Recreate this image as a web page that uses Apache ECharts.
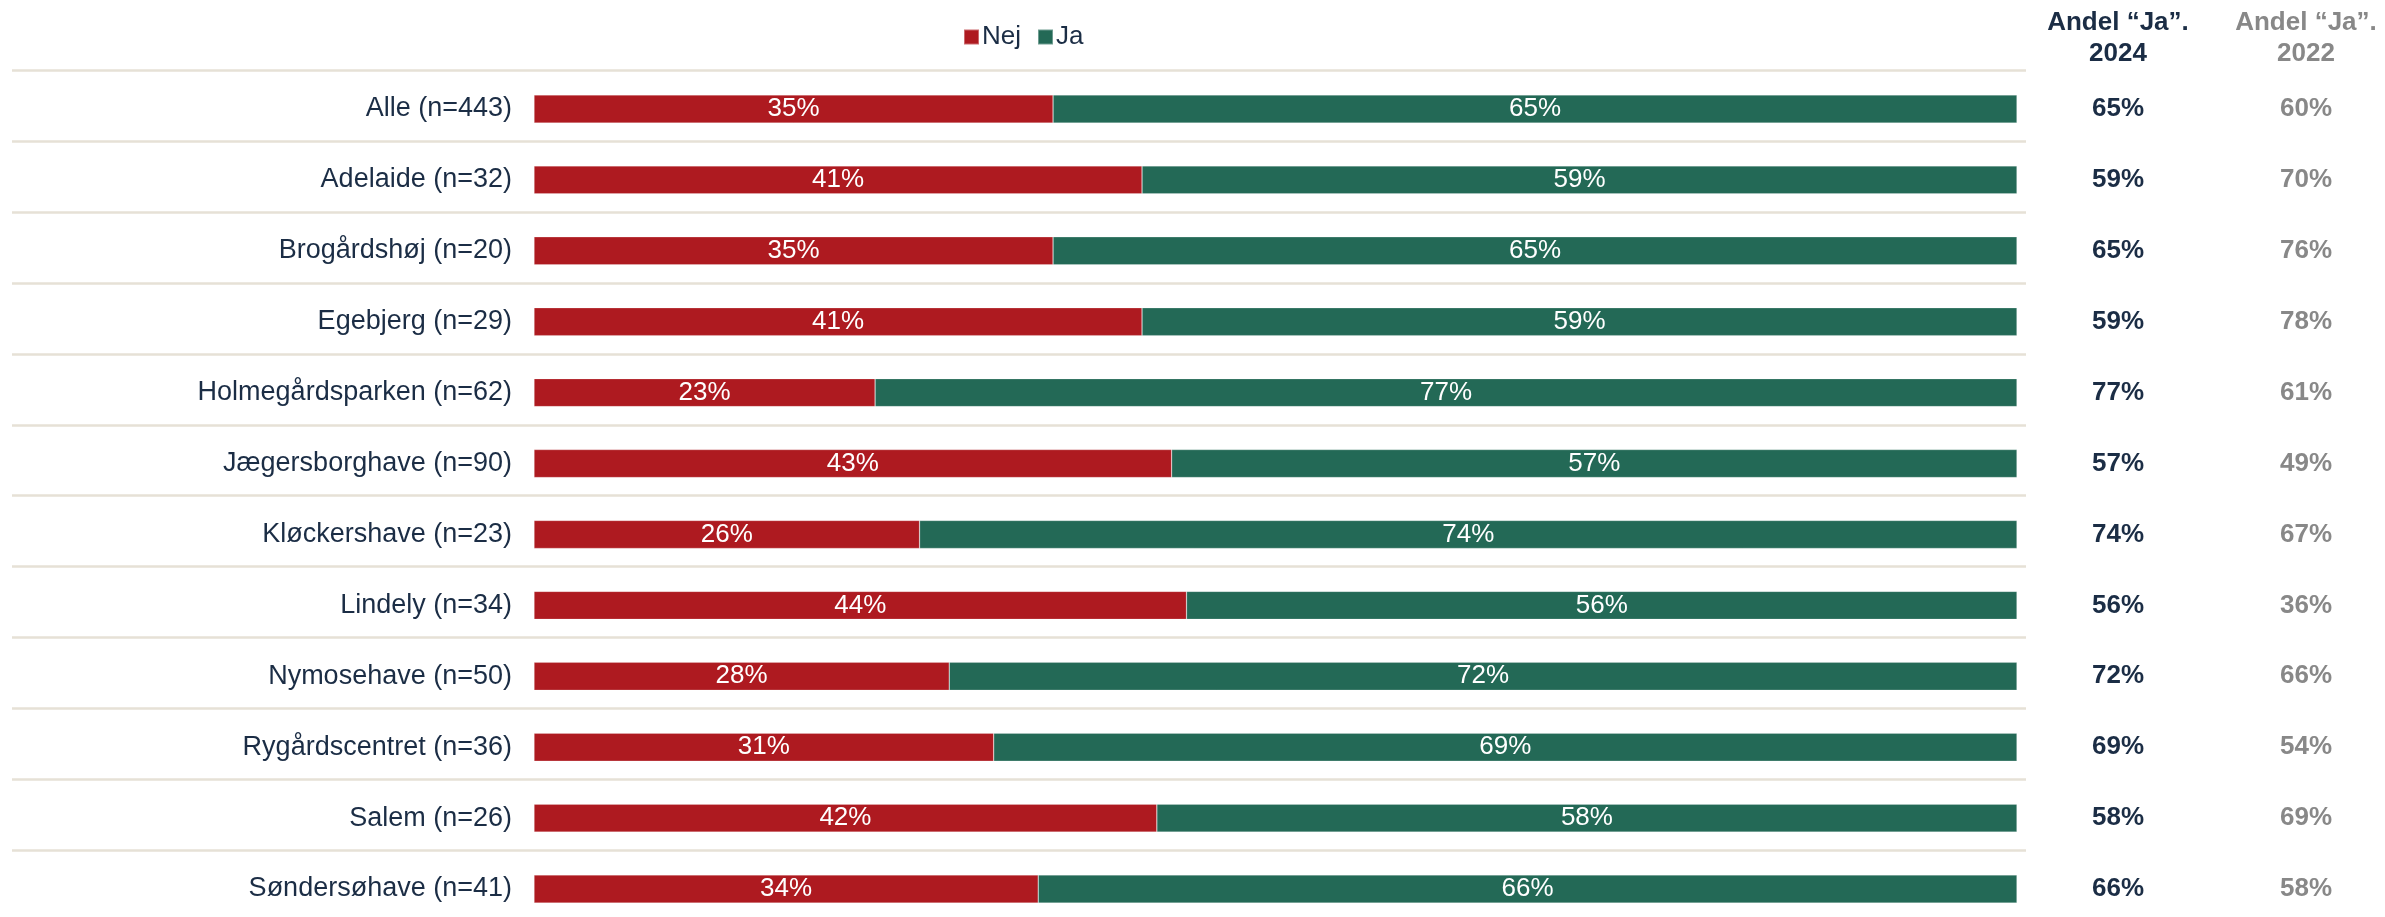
<!DOCTYPE html>
<html>
<head>
<meta charset="utf-8">
<title>Andel Ja</title>
<script src="https://cdn.jsdelivr.net/npm/echarts@6/dist/echarts.min.js"></script>
<style>
  html, body { margin: 0; padding: 0; background: #ffffff; }
  #chart { width: 2385px; height: 917px; }
</style>
</head>
<body>
<div id="chart"></div>
<script>
// Areas with number of respondents
const categories = [
  'Alle (n=443)', 'Adelaide (n=32)', 'Brogårdshøj (n=20)', 'Egebjerg (n=29)',
  'Holmegårdsparken (n=62)', 'Jægersborghave (n=90)', 'Kløckershave (n=23)',
  'Lindely (n=34)', 'Nymosehave (n=50)', 'Rygårdscentret (n=36)',
  'Salem (n=26)', 'Søndersøhave (n=41)'
];
// Share answering "Nej" and "Ja" (percent), 2024
const nejValues = [35, 41, 35, 41, 23, 43, 26, 44, 28, 31, 42, 34];
const jaValues  = [65, 59, 65, 59, 77, 57, 74, 56, 72, 69, 58, 66];
// Share answering "Ja" in 2022 (percent)
const ja2022Values = [60, 70, 76, 78, 61, 49, 67, 36, 66, 54, 69, 58];
// Column headings on the right
const header2024 = 'Andel \u201cJa\u201d.\n2024';
const header2022 = 'Andel \u201cJa\u201d.\n2022';

const RED = '#AE1A20';
const GREEN = '#236956';
const NAVY = '#1B2D45';
const GREY = '#888888';
const RULE = '#E6E1D6';
const FONT = '"Liberation Sans", Arial, sans-serif';

const chart = echarts.init(document.getElementById('chart'), null, { renderer: 'canvas' });

const option = {
  animation: false,
  backgroundColor: '#ffffff',
  textStyle: { fontFamily: FONT },
  legend: {
    data: ['Nej', 'Ja'],
    left: 958,
    top: 19,
    itemWidth: 15,
    itemHeight: 15,
    itemGap: 16,
    icon: 'rect',
    textStyle: { fontSize: 26, color: NAVY, fontFamily: FONT, padding: [2, 0, 0, -2] }
  },
  graphic: [
    {
      type: 'text', x: 2118, y: 38,
      style: {
        text: header2024, align: 'center', verticalAlign: 'middle',
        font: 'bold 26px ' + FONT, fill: NAVY, lineHeight: 31
      }
    },
    {
      type: 'text', x: 2306, y: 38,
      style: {
        text: header2022, align: 'center', verticalAlign: 'middle',
        font: 'bold 26px ' + FONT, fill: GREY, lineHeight: 31
      }
    }
  ],
  // rows sit on the ticks: first row at the top edge, last at the bottom edge
  grid: { left: 534, right: 368, top: 109, bottom: 28, containLabel: false },
  xAxis: { type: 'value', min: 0, max: 100, show: false },
  yAxis: [
    {
      type: 'category',
      data: categories,
      inverse: true,
      boundaryGap: false,
      axisLine: { show: false },
      axisTick: { show: false },
      splitLine: { show: false },
      axisLabel: { fontSize: 27, color: NAVY, margin: 22, fontFamily: FONT }
    },
    {
      type: 'category',
      data: categories,
      inverse: true,
      boundaryGap: false,
      position: 'right',
      axisLine: { show: false },
      axisTick: { show: false },
      splitLine: { show: false },
      axisLabel: {
        margin: 0,
        formatter: function (value, idx) {
          return '{a|' + jaValues[idx] + '%}{b|' + ja2022Values[idx] + '%}';
        },
        rich: {
          a: { width: 202, align: 'center', fontSize: 26, fontWeight: 'bold', color: NAVY, fontFamily: FONT },
          b: { width: 174, align: 'center', fontSize: 26, fontWeight: 'bold', color: GREY, fontFamily: FONT }
        }
      }
    }
  ],
  series: [
    {
      // thin rule above each row
      type: 'custom',
      silent: true,
      yAxisIndex: 0,
      clip: false,
      z: 1,
      data: categories.map((c, i) => [0, i]),
      renderItem: function (params, api) {
        const pt = api.coord([api.value(0), api.value(1)]);
        const band = api.size([0, 1])[1];
        const right = api.coord([100, api.value(1)])[0] + 9;
        const y = Math.round(pt[1] - band * 0.55) + 0.5;
        return {
          type: 'line',
          shape: { x1: 12, y1: y, x2: right, y2: y },
          style: { stroke: RULE, lineWidth: 2.5 }
        };
      }
    },
    {
      name: 'Nej',
      type: 'bar',
      stack: 'total',
      barWidth: 28,
      data: nejValues,
      itemStyle: { color: RED, borderColor: 'rgba(255,255,255,0.35)', borderWidth: 0.6 },
      label: {
        show: true, position: 'inside', color: '#ffffff', fontSize: 26, fontFamily: FONT,
        formatter: p => p.value + '%'
      },
      z: 3
    },
    {
      name: 'Ja',
      type: 'bar',
      stack: 'total',
      barWidth: 28,
      data: jaValues,
      itemStyle: { color: GREEN, borderColor: 'rgba(255,255,255,0.35)', borderWidth: 0.6 },
      label: {
        show: true, position: 'inside', color: '#ffffff', fontSize: 26, fontFamily: FONT,
        formatter: p => p.value + '%'
      },
      z: 3
    }
  ]
};

chart.setOption(option);
</script>
</body>
</html>
